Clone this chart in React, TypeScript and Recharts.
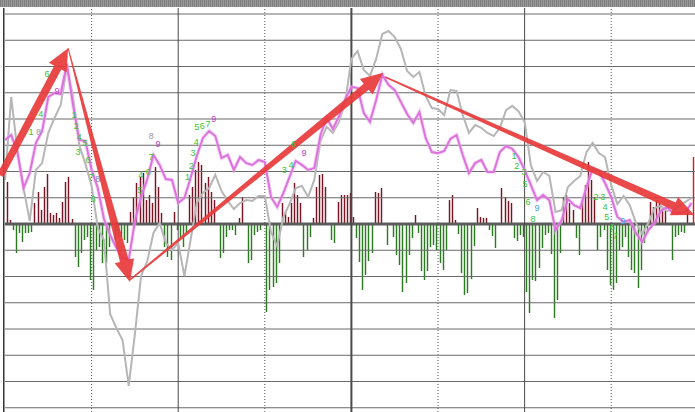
import { ComposedChart, Bar, Line, Scatter, XAxis, YAxis, ReferenceLine, Cell } from 'recharts';

// values are in grid units: 1 = one horizontal grid step, 0 = the zero line
// lines are sampled on every second bar slot

const grayLine = [
  1.68, 4.84, 2.82, 1.37, 0.11, 2.06, 2.32, 3.47, 4.04, 4.53,
  5.98, 4.84, 3.01, 2.29, 1.45, -0.15, -0.61, -3.43, -3.96, -4.42,
  -6.17, -4.19, -1.98, -1.41, -0.34, 0.04, -0.72, -0.99, -0.72, -1.98,
  -0.61, 0.8, 1.18, 1.37, 1.87, 1.26, 0.88, 0.57, 0.8, 0.91,
  0.88, 1.07, 1.07, -0.3, -0.84, 0.27, 0.76, 1.37, 1.45, 1.03,
  1.68, 3.16, 3.7, 3.47, 3.89, 4.65, 6.29, 6.59, 5.87, 5.64,
  6.29, 7.24, 7.35, 7.12, 6.67, 5.83, 5.6, 5.79, 4.88, 4.42,
  4.38, 4.15, 5.1, 5.07, 4.15, 3.47, 3.77, 3.66, 3.47, 3.35,
  3.66, 4.34, 4.5, 4.3, 3.89, 2.25, 1.64, 1.98, 1.83, 0.46,
  0.53, 1.41, 1.64, 1.83, 2.74, 3.09, 2.7, 2.55, 1.49, 0.76,
  1.07, 0.72, 0.04, -0.38, 0.04, 0.61, 0.69, 0.5, 0.53, 0.69,
  0.84, 0.99,
];

const pinkLine = [
  3.2, 3.39, 2.74, 1.37, 1.94, 3.09, 3.54, 4.84, 4.99, 4.95,
  6.1, 4.53, 3.2, 3.16, 2.06, 1.37, 0.19, -0.42, -0.91, -1.3,
  -1.37, 0.11, 1.03, 1.71, 2.63, 2.25, 1.71, 1.68, 0.8, 0.99,
  1.75, 2.59, 3.28, 3.54, 3.35, 2.51, 2.63, 2.06, 2.55, 2.32,
  2.25, 2.44, 2.36, 1.03, 0.65, 1.18, 1.79, 2.4, 2.25, 2.06,
  2.13, 3.39, 4.04, 3.62, 4.11, 4.76, 5.22, 5.18, 4.23, 3.89,
  4.72, 5.68, 5.3, 5.1, 4.65, 4.19, 3.85, 4.27, 3.28, 2.74,
  2.7, 2.78, 3.24, 3.39, 2.63, 1.94, 2.32, 2.44, 1.98, 1.98,
  2.74, 2.97, 2.86, 2.55, 2.06, 1.49, 0.91, 1.1, 0.91, -0.23,
  0.15, 0.95, 0.72, 0.61, 1.41, 2.1, 2.02, 1.56, 1.03, 0.27,
  0.08, 0.15, -0.34, -0.69, -0.23, 0.04, 0.5, 0.65, 0.42, 0.42,
  0.46, 0.8,
];

const barValues = [
  0, 1.6, 0.15, -0.23, -1.1, -0.34, -0.69, -0.34, -0.34, -0.3,
  0.8, 1.22, 0.53, 1.41, 1.9, 0.42, 0.34, 0.42, 0.23, 0.84,
  1.6, 1.79, 0.19, -1.26, -1.64, -1.1, -0.61, -0.5, -2.13, -2.51,
  -0.99, -0.88, -1.49, -1.49, -0.88, 0, -0.61, -0.5, -0.5, -0.61,
  -0.72, 0.46, 1.03, 1.56, 1.79, 1.94, 0.91, 1.1, 0.8, 2.17,
  1.41, 0.42, -0.88, -1.26, -1.37, 0.46, -0.23, -0.5, -0.88, -0.34,
  1.1, 1.41, 2.06, 2.36, 2.25, 1.56, 1.79, 1.22, 0.91, 0,
  -1.3, -1.1, -0.5, -0.23, -0.23, -0.42, 0.23, 1.03, 0, -1.49,
  -1.37, -0.42, -0.3, -0.23, 0, -3.35, -2.51, -2.4, -2.25, -1.49,
  0.8, 0.46, 0.27, 0.8, 1.56, 1.1, 0.8, -1.26, -0.99, -0.5,
  0.23, 1.41, 1.87, 1.9, 1.41, 0, -0.61, -0.72, 0.84, 1.1,
  1.1, 1.1, 1.18, 0.27, -0.53, -1.45, -2.51, -1.94, -1.41, -1.1,
  1.22, 1.18, 1.37, 0, -0.8, 0, -0.5, -1.18, -1.56, -2.59,
  -2.25, -1.18, -0.53, 0.34, -0.34, -1.79, -2.13, -1.79, -0.88, -0.8,
  -0.99, -1.49, -1.75, -0.99, 0.91, 1.1, 0.15, -0.38, -1.87, -2.7,
  -2.63, -2.1, -0.84, 0.61, 0.27, 0.23, 0.23, -0.23, -0.46, -0.91,
  0, 1.37, 1.03, 0.88, 0.8, -0.53, -0.65, -0.42, -0.5, -2.59,
  -3.39, -2.13, -2.17, -1.68, -0.91, -0.42, -0.34, -1.14, -3.58, -2.9,
  -1.1, 1.03, 1.1, 0.8, 0.53, -0.53, -1.18, 0.91, 1.49, 2.36,
  1.68, 1.03, -0.99, -0.5, -0.23, -1.75, -2.32, -2.51, -2.25, -0.99,
  -0.88, -0.5, -1.26, -1.75, -1.87, -2.44, -1.75, -0.72, -0.34, 0.84,
  0.65, 0.91, 0.8, 0.65, 0.53, 0, -1.37, -0.5, -0.42, -0.3,
  -0.34, 0.53, 0, 2.55,
];

const gridLevels = [-7, -6, -5, -4, -3, -2, -1, 0, 1, 2, 3, 4, 5, 6, 7, 8];
const dayLines = [28, 56, 84, 112, 140, 168, 196];

// trend arrows drawn over the chart (tail -> head)
const arrowFrom = [
  { i: -1.5, v: 1.85 },
  { i: 20.4, v: 6.7 },
  { i: 40.4, v: -2.13 },
  { i: 122.9, v: 5.6 },
];
const arrowTo = [
  { i: 20.4, v: 6.7 },
  { i: 40.4, v: -2.21 },
  { i: 122.3, v: 5.76 },
  { i: 222.8, v: 0.34 },
];

// sequential count marks
const countLabels = [
  { i: 13.6, v: 5.71, t: '6', k: 'g' },
  { i: 16.8, v: 5.07, t: '9', k: 'm' },
  { i: 11.6, v: 4.19, t: '4', k: 'g' },
  { i: 8.4, v: 3.5, t: '1', k: 'g' },
  { i: 10.8, v: 3.5, t: '8', k: 'x' },
  { i: 22.3, v: 4.15, t: '1', k: 'g' },
  { i: 23.0, v: 3.73, t: '2', k: 'g' },
  { i: 24.0, v: 3.3, t: '4', k: 'g' },
  { i: 25.9, v: 3.08, t: '5', k: 'g' },
  { i: 23.6, v: 2.75, t: '3', k: 'g' },
  { i: 26.8, v: 2.45, t: '6', k: 'g' },
  { i: 27.8, v: 1.79, t: '7', k: 'g' },
  { i: 30.0, v: 1.72, t: '8', k: 'b' },
  { i: 28.5, v: 0.95, t: '6', k: 'g' },
  { i: 47.3, v: 3.36, t: '8', k: 'x' },
  { i: 49.5, v: 3.05, t: '9', k: 'm' },
  { i: 47.2, v: 2.55, t: '7', k: 'g' },
  { i: 43.9, v: 1.87, t: '4', k: 'g' },
  { i: 46.3, v: 1.98, t: '6', k: 'g' },
  { i: 43.6, v: 1.3, t: '5', k: 'g' },
  { i: 61.8, v: 3.12, t: '4', k: 'g' },
  { i: 60.8, v: 2.72, t: '3', k: 'g' },
  { i: 60.2, v: 2.22, t: '2', k: 'g' },
  { i: 59.0, v: 1.8, t: '1', k: 'g' },
  { i: 62.0, v: 3.68, t: '5', k: 'g' },
  { i: 63.8, v: 3.74, t: '6', k: 'g' },
  { i: 65.6, v: 3.8, t: '7', k: 'g' },
  { i: 67.5, v: 4.0, t: '9', k: 'm' },
  { i: 93.4, v: 3.05, t: '6', k: 'g' },
  { i: 96.7, v: 2.7, t: '9', k: 'm' },
  { i: 90.3, v: 2.06, t: '3', k: 'g' },
  { i: 92.5, v: 2.25, t: '4', k: 'g' },
  { i: 164.6, v: 2.6, t: '1', k: 'g' },
  { i: 165.5, v: 2.22, t: '2', k: 'g' },
  { i: 167.8, v: 1.98, t: '3', k: 'g' },
  { i: 168.1, v: 1.52, t: '5', k: 'g' },
  { i: 169.1, v: 0.84, t: '6', k: 'g' },
  { i: 172.0, v: 0.61, t: '9', k: 'c' },
  { i: 170.7, v: 0.2, t: '8', k: 'g' },
  { i: 191.1, v: 1.03, t: '2', k: 'g' },
  { i: 193.3, v: 1.03, t: '3', k: 'g' },
  { i: 194.0, v: 0.66, t: '4', k: 'g' },
  { i: 194.6, v: 0.28, t: '5', k: 'g' },
  { i: 196.3, v: -0.1, t: '6', k: 'g' },
  { i: 197.3, v: -0.46, t: '7', k: 'g' },
  { i: 199.7, v: 0.1, t: '9', k: 'c' },
];

const labelColors: { [key: string]: string } = {
  g: '#33c633',
  m: '#c43bc4',
  c: '#3aa6dc',
  b: '#5b86d6',
  x: '#9a9a9a',
};

// arrow shaft width at tail / at head base
const arrowWidths = [
  [7, 8],
  [1, 9],
  [1.5, 8],
  [1.5, 8],
];

const rows = barValues.map((b, i) => ({
  i,
  bar: b,
  gray: i % 2 === 0 ? grayLine[i / 2] : null,
  pink: i % 2 === 0 ? pinkLine[i / 2] : null,
}));

const STEP = 26.25; // px per grid step
const ZERO_Y = 224;
const TOP = 8;
const HEIGHT = 412;
const yDomain = [-(HEIGHT - ZERO_Y) / STEP, (ZERO_Y - TOP) / STEP];

function renderArrow(p: any, w0: number, w1: number) {
  const { x1, y1, x2, y2 } = p;
  const dx = x2 - x1;
  const dy = y2 - y1;
  const len = Math.sqrt(dx * dx + dy * dy) || 1;
  const ux = dx / len;
  const uy = dy / len;
  const nx = -uy;
  const ny = ux;
  const headLen = 22;
  const headHalf = 10;
  const bx = x2 - ux * headLen;
  const by = y2 - uy * headLen;
  const pts = [
    [x1 + (nx * w0) / 2, y1 + (ny * w0) / 2],
    [bx + (nx * w1) / 2, by + (ny * w1) / 2],
    [bx + nx * headHalf, by + ny * headHalf],
    [x2, y2],
    [bx - nx * headHalf, by - ny * headHalf],
    [bx - (nx * w1) / 2, by - (ny * w1) / 2],
    [x1 - (nx * w0) / 2, y1 - (ny * w0) / 2],
  ];
  return <polygon points={pts.map((q) => q.join(',')).join(' ')} fill="#e8393b" fillOpacity={0.92} />;
}

// thin volume stick: 1px core snapped to the pixel grid plus a faint halo
function renderStick(p: any) {
  const { x, y, width, height, fill } = p;
  if (!height) return <g />;
  const cx = Math.floor(x + width / 2) - 1;
  const top = Math.min(y, y + height);
  const h = Math.abs(height);
  return (
    <g>
      <rect x={cx - 1} y={top} width={3} height={h} fill={fill} fillOpacity={0.22} />
      <rect x={cx} y={top} width={1} height={h} fill={fill} shapeRendering="crispEdges" />
    </g>
  );
}

function renderCount(p: any) {
  const { cx, cy, payload } = p;
  return (
    <text
      x={cx}
      y={cy}
      textAnchor="middle"
      dominantBaseline="central"
      fontSize={9}
      fontFamily="'Liberation Sans', Arial, sans-serif"
      fill={labelColors[payload.k]}
    >
      {payload.t}
    </text>
  );
}

export default function App() {
  return (
    <div style={{ position: 'fixed', left: 0, top: 0, width: 695, height: 412, overflow: 'hidden', background: '#ffffff' }}>
      <div
        style={{
          position: 'absolute',
          left: 0,
          top: 0,
          width: 695,
          height: 7,
          background: 'repeating-linear-gradient(90deg, #7d7d7d 0px, #7d7d7d 1px, #9a9a9a 1px, #9a9a9a 2px)',
        }}
      />
      <div style={{ position: 'absolute', left: 0, top: 0 }}>
        <ComposedChart width={704} height={HEIGHT} data={rows} margin={{ top: TOP, right: 0, bottom: 0, left: 5 }}>
          <XAxis dataKey="i" type="number" domain={[0, 226]} hide allowDataOverflow />
          <YAxis type="number" domain={yDomain} hide allowDataOverflow />

          {gridLevels.map((g) => (
            <ReferenceLine
              key={`h${g}`}
              y={g}
              stroke={g === 0 ? '#5c5c5c' : '#6a6a6a'}
              strokeWidth={g === 0 ? 3 : 1}
            />
          ))}
          {dayLines.map((d) => (
            <ReferenceLine
              key={`v${d}`}
              x={d}
              stroke={d % 56 === 28 ? '#555555' : '#4a4a4a'}
              strokeWidth={d === 112 ? 2 : 1}
              strokeDasharray={d % 56 === 28 ? '1 2' : undefined}
            />
          ))}
          <ReferenceLine x={-0.4} stroke="#333333" strokeWidth={1.5} ifOverflow="visible" />

          <Bar dataKey="bar" barSize={2} shape={renderStick} isAnimationActive={false}>
            {rows.map((r, k) => (
              <Cell
                key={`c${k}`}
                fill={k === rows.length - 1 ? '#e01a1a' : r.bar >= 0 ? '#7a1424' : '#2c7a22'}
              />
            ))}
          </Bar>

          <Line dataKey="gray" stroke="#b6b6b6" strokeWidth={2} dot={false} activeDot={false} connectNulls isAnimationActive={false} />
          <Line dataKey="pink" stroke="#f0b8f0" strokeWidth={4} strokeOpacity={0.5} dot={false} activeDot={false} connectNulls isAnimationActive={false} />
          <Line dataKey="pink" stroke="#dc72dc" strokeWidth={2} dot={false} activeDot={false} connectNulls isAnimationActive={false} />

          {arrowFrom.map((a, k) => (
            <ReferenceLine
              key={`a${k}`}
              segment={[
                { x: a.i, y: a.v },
                { x: arrowTo[k].i, y: arrowTo[k].v },
              ]}
              ifOverflow="visible"
              shape={(p: any) => renderArrow(p, arrowWidths[k][0], arrowWidths[k][1])}
            />
          ))}

          <Scatter data={countLabels} dataKey="v" shape={renderCount} isAnimationActive={false} />
        </ComposedChart>
      </div>
    </div>
  );
}
